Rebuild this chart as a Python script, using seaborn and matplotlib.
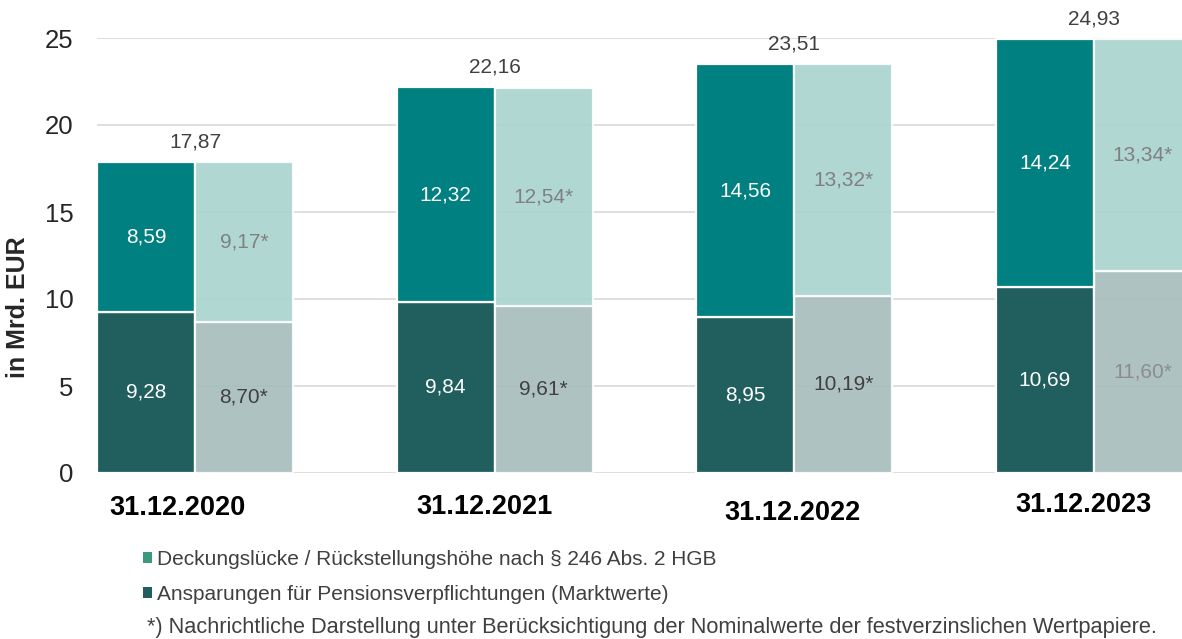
import matplotlib
matplotlib.use('Agg')
import seaborn as sns
import pandas as pd
import numpy as np
import matplotlib.pyplot as plt
from matplotlib.patches import Patch

# data
dates = ["31.12.2020", "31.12.2021", "31.12.2022", "31.12.2023"]
series = ["Marktwerte", "Nominalwerte"]
markt_bottom = [9.28, 9.84, 8.95, 10.69]
markt_top = [8.59, 12.32, 14.56, 14.24]
nominal_bottom = [8.70, 9.61, 10.19, 11.60]
nominal_top = [9.17, 12.54, 13.32, 13.34]
totals = [17.87, 22.16, 23.51, 24.93]

legend_labels = ["Deckungslücke / Rückstellungshöhe nach § 246 Abs. 2 HGB",
                 "Ansparungen für Pensionsverpflichtungen (Marktwerte)"]
footnote = "*) Nachrichtliche Darstellung unter Berücksichtigung der Nominalwerte der festverzinslichen Wertpapiere."

# colours
c_dark_top = "#008080"
c_dark_bot = "#215e5e"
c_light_top = "#a9d3cf"
c_light_bot = "#a6bcbc"
c_legend_top = "#3a9a7e"

df = pd.DataFrame({
    "date": dates * 2,
    "series": [series[0]] * 4 + [series[1]] * 4,
    "bottom": markt_bottom + nominal_bottom,
    "top": markt_top + nominal_top,
})

sns.set_theme(style="white")
plt.rcParams['font.family'] = ['Liberation Sans', 'DejaVu Sans']

fig = plt.figure(figsize=(11.82, 6.39), dpi=100)
ax = fig.add_axes([97 / 1182, 1 - 473 / 639, 1 - 97 / 1182, (473 - 38) / 639])

ax.set_axisbelow(True)
ax.yaxis.grid(True, color="#d9d9d9", linewidth=1.2)

sns.barplot(data=df, x="date", y="bottom", hue="series", hue_order=series,
            palette=[c_dark_bot, c_light_bot], width=0.654, legend=False,
            edgecolor="white", linewidth=1.6, saturation=1, ax=ax)

# light bars are a bit transparent, grid shows through
base_patches = list(ax.patches)
for p in base_patches[4:]:
    p.set_alpha(0.9)

# stack top segments on the seaborn bars
top_colors = [c_dark_top] * 4 + [c_light_top] * 4
for p, h, col in zip(base_patches, df["top"], top_colors):
    b = ax.bar(p.get_x(), h, width=p.get_width(), bottom=p.get_height(),
               align="edge", color=col, edgecolor="white", linewidth=1.6)
    if col == c_light_top:
        b[0].set_alpha(0.9)

# value labels
light_bot_text = ["#404040", "#404040", "#404040", "#8c8c8c"]
for i, p in enumerate(base_patches):
    xc = p.get_x() + p.get_width() / 2
    bot = p.get_height()
    top = df["top"].iloc[i]
    fb = ("%.2f" % bot).replace(".", ",")
    ft = ("%.2f" % top).replace(".", ",")
    if i < 4:
        ax.text(xc, bot / 2, fb, ha="center", va="center",
                color="white", fontsize=15)
        ax.text(xc, bot + top / 2, ft, ha="center", va="center",
                color="white", fontsize=15)
    else:
        ax.text(xc, bot / 2, fb + "*", ha="center", va="center",
                color=light_bot_text[i - 4], fontsize=15)
        ax.text(xc, bot + top / 2, ft + "*", ha="center", va="center",
                color="#808080", fontsize=15)

for i, t in enumerate(totals):
    ax.text(i, t + 0.6, ("%.2f" % t).replace(".", ","), ha="center", va="bottom",
            color="#404040", fontsize=15, clip_on=False)

# category labels (slightly uneven in the original)
label_dx = [-0.06, -0.035, -0.005, -0.035]
label_y = [-2.0, -1.95, -2.3, -1.85]
for i, d in enumerate(dates):
    ax.text(i + label_dx[i], label_y[i], d, ha="center", va="center",
            fontsize=19.5, fontweight="bold", color="black", clip_on=False)

ax.set_xlim(-0.327, 3.294)
ax.set_ylim(0, 25)
ax.set_yticks([0, 5, 10, 15, 20, 25])
ax.tick_params(axis="y", labelsize=18.5, pad=17, length=0)
ax.set_xticks([])
ax.set_xlabel("")
ax.set_ylabel("")
for s in ax.spines.values():
    s.set_visible(False)

fig.text(18 / 1182, 1 - 307 / 639, "in Mrd. EUR", rotation=90, ha="center",
         va="center", fontsize=18, fontweight="bold")

handles = [Patch(facecolor=c_legend_top, edgecolor="none"),
           Patch(facecolor=c_dark_bot, edgecolor="none")]
fig.legend(handles, legend_labels, loc="upper left",
           bbox_to_anchor=(143 / 1182, 1 - 550 / 639), frameon=False,
           fontsize=15, handlelength=0.45, handleheight=0.45, handletextpad=0.2,
           labelspacing=0.75, borderaxespad=0, borderpad=0, labelcolor="#404040")

fig.text(147 / 1182, 1 - 628 / 639, footnote, ha="left", va="center",
         fontsize=15.7, color="#404040")

fig.savefig("out.png", dpi=100)
